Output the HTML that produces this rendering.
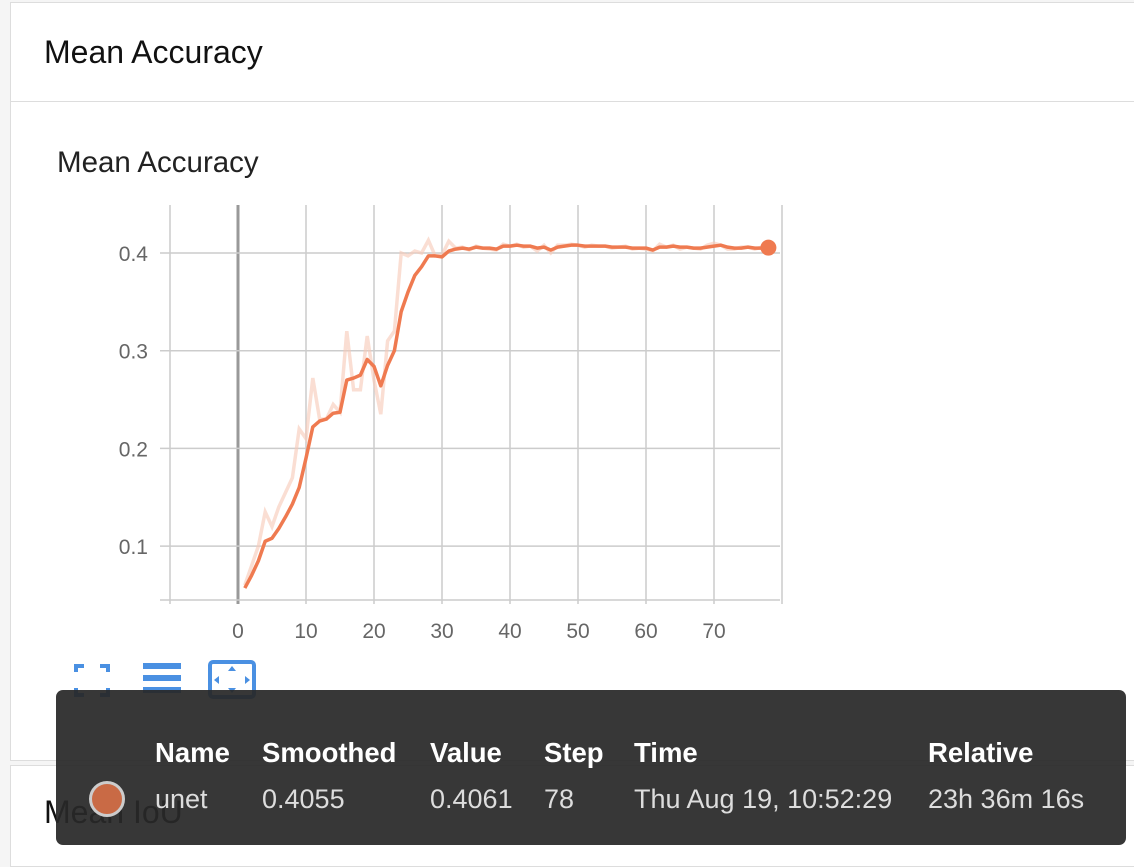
<!DOCTYPE html>
<html><head><meta charset="utf-8"><style>
body{margin:0;width:1134px;height:854px;overflow:hidden;background:#f5f5f5;font-family:"Liberation Sans",sans-serif;position:relative}
.card{position:absolute;background:#fff;border:1px solid #ddd}
.tt{position:absolute;left:56px;top:690px;width:1070px;height:155px;background:rgba(40,40,40,0.93);border-radius:7px;color:#fff}
.tt span{position:absolute;font-size:27px}
.h{font-weight:bold;top:47px;font-size:27.5px!important}
.v{top:94px;color:#ddd}
</style></head><body>
<div class="card" style="left:10px;top:2px;width:1130px;height:98px"></div>
<div style="position:absolute;left:44px;top:34px;font-size:32px;color:#111">Mean Accuracy</div>
<div class="card" style="left:10px;top:101px;width:1130px;height:658px"></div>
<div class="card" style="left:10px;top:765px;width:1130px;height:100px"></div>
<div style="position:absolute;left:44px;top:794px;font-size:32px;color:#111">Mean IoU</div>
<div style="position:absolute;left:57px;top:146px;font-size:29.5px;color:#222">Mean Accuracy</div>
<svg id="chart" width="1134" height="854" style="position:absolute;left:0;top:0"></svg>
<svg width="1134" height="854" style="position:absolute;left:0;top:0">
<g fill="none" stroke="#4a90e2" stroke-width="4">
<path d="M76 672v-6h8M100 666h8v6M76 688v7h8M100 695h8v-7"/></g>
<g fill="#4a90e2">
<rect x="143" y="663" width="38" height="6"/><rect x="143" y="675" width="38" height="6"/><rect x="143" y="687" width="38" height="6"/></g>
<g><rect x="210" y="662" width="44" height="35" rx="3" fill="none" stroke="#4a90e2" stroke-width="4"/>
<path d="M232 666l-4 5h8zM232 693l-4-5h8zM214 680l5-4v8zM250 680l-5-4v8z" fill="#4a90e2"/></g>
</svg>
<div class="tt">
<span class="h" style="left:99px">Name</span><span class="h" style="left:206px">Smoothed</span><span class="h" style="left:374px">Value</span><span class="h" style="left:488px">Step</span><span class="h" style="left:578px">Time</span><span class="h" style="left:872px">Relative</span>
<div style="position:absolute;left:33px;top:91px;width:30px;height:30px;border-radius:50%;background:#c96a45;border:3px solid #ccc"></div>
<span class="v" style="left:99px">unet</span><span class="v" style="left:206px">0.4055</span><span class="v" style="left:374px">0.4061</span><span class="v" style="left:488px">78</span><span class="v" style="left:578px">Thu Aug 19, 10:52:29</span><span class="v" style="left:872px">23h 36m 16s</span>
</div>
<script>
const steps=[];for(let i=1;i<=78;i++)steps.push(i);
const smoothed=[0.057,0.07,0.085,0.105,0.108,0.118,0.13,0.143,0.16,0.19,0.222,0.228,0.23,0.236,0.237,0.27,0.272,0.275,0.291,0.284,0.264,0.285,0.30,0.34,0.36,0.377,0.386,0.397,0.397,0.396,0.402,0.404,0.405,0.404,0.406,0.405,0.405,0.404,0.407,0.407,0.408,0.407,0.407,0.405,0.406,0.403,0.406,0.407,0.408,0.408,0.407,0.407,0.407,0.407,0.406,0.406,0.406,0.405,0.405,0.405,0.403,0.406,0.406,0.407,0.406,0.406,0.405,0.405,0.406,0.407,0.408,0.406,0.405,0.405,0.406,0.405,0.405,0.4055];
const raw=[0.06,0.08,0.1,0.135,0.12,0.14,0.155,0.17,0.22,0.21,0.272,0.23,0.23,0.245,0.237,0.32,0.26,0.26,0.315,0.27,0.235,0.31,0.32,0.40,0.397,0.402,0.40,0.413,0.397,0.398,0.412,0.405,0.406,0.403,0.407,0.405,0.404,0.403,0.409,0.407,0.409,0.406,0.407,0.402,0.408,0.400,0.408,0.408,0.409,0.408,0.406,0.408,0.407,0.407,0.405,0.406,0.407,0.404,0.405,0.404,0.402,0.409,0.406,0.408,0.404,0.406,0.405,0.404,0.408,0.410,0.408,0.404,0.404,0.406,0.406,0.404,0.406,0.4061];
const xTicks=[0,10,20,30,40,50,60,70];
const yTicks=[0.1,0.2,0.3,0.4];
const X=s=>238+s*6.8, Y=v=>253-(v-0.4)*977;
const svg=document.getElementById('chart');const NS='http://www.w3.org/2000/svg';
function mk(t,a){const e=document.createElementNS(NS,t);for(const k in a)e.setAttribute(k,a[k]);svg.appendChild(e);return e;}
for(let s=-10;s<=80;s+=10){const g=mk('line',{x1:X(s),x2:X(s),y1:205,y2:604,stroke:s===0?'#999':'#ccc','stroke-width':s===0?3:1.5});

}
yTicks.forEach(v=>{const l=mk('line',{x1:160,x2:780,y1:Y(v),y2:Y(v),stroke:'#ccc','stroke-width':1.5});


const t=mk('text',{x:148,y:Y(v)+8,'text-anchor':'end','font-size':21,fill:'#666','font-family':'Liberation Sans, sans-serif'});t.textContent=v.toFixed(1);

});
mk('line',{x1:160,x2:780,y1:600,y2:600,stroke:'#ccc','stroke-width':1.5});
xTicks.forEach(s=>{const t=mk('text',{x:X(s),y:638,'text-anchor':'middle','font-size':21,fill:'#666','font-family':'Liberation Sans, sans-serif'});t.textContent=s;

});
const pr=mk('polyline',{points:steps.map((s,i)=>X(s)+','+Y(raw[i])).join(' '),fill:'none',stroke:'#f6c8b6','stroke-opacity':0.6,'stroke-width':3.5});


const ps=mk('polyline',{points:steps.map((s,i)=>X(s)+','+Y(smoothed[i])).join(' '),fill:'none',stroke:'#ef7a50','stroke-width':3.5,'stroke-linejoin':'round'});


const c=mk('circle',{cx:X(78),cy:Y(smoothed[77]),r:8,fill:'#ef7a50'});


</script>
</body></html>
